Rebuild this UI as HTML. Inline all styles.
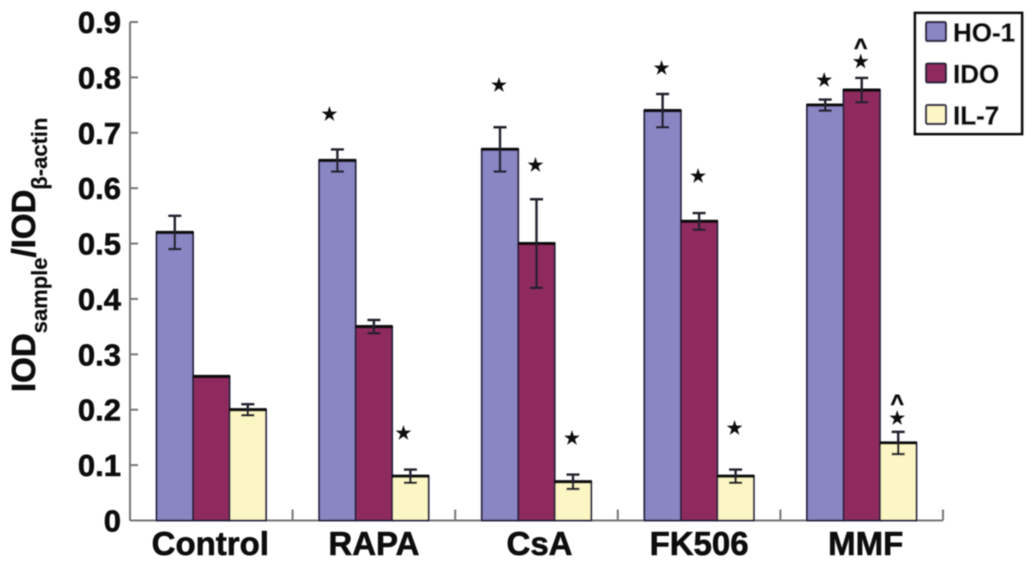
<!DOCTYPE html>
<html>
<head>
<meta charset="utf-8">
<title>IOD ratio bar chart</title>
<style>
html,body{margin:0;padding:0;background:#fff;width:1033px;height:565px;overflow:hidden}
svg{display:block}
text{font-family:"Liberation Sans",sans-serif;font-weight:bold;fill:#111;stroke:#111;stroke-width:0.6px}
</style>
</head>
<body>
<svg id="chart" xmlns="http://www.w3.org/2000/svg" width="1033" height="565" viewBox="0 0 1033 565">
<defs><filter id="soft" x="-5%" y="-5%" width="110%" height="110%"><feGaussianBlur stdDeviation="0.5"/></filter></defs>
<g id="plot" filter="url(#soft)">
<text transform="translate(35,392) rotate(-90)" font-size="33">IOD<tspan font-size="22" dy="12" style="stroke-width:0.2px">sample</tspan><tspan font-size="33" dy="-12">/IOD</tspan><tspan font-size="22" dy="12" style="stroke-width:0.2px" font-family="Liberation Sans, DejaVu Sans, sans-serif">β-actin</tspan></text>
</g>
</svg>
<script>
const categories = ['Control', 'RAPA', 'CsA', 'FK506', 'MMF'];
const seriesNames = ['HO-1', 'IDO', 'IL-7'];
const hoValues = [0.52, 0.65, 0.67, 0.74, 0.75];
const idoValues = [0.26, 0.35, 0.50, 0.54, 0.777];
const il7Values = [0.20, 0.08, 0.07, 0.08, 0.14];
const hoErrors = [0.03, 0.02, 0.04, 0.03, 0.01];
const idoErrors = [0, 0.012, 0.08, 0.015, 0.022];
const il7Errors = [0.01, 0.012, 0.013, 0.012, 0.02];
const yTickLabels = ['0', '0.1', '0.2', '0.3', '0.4', '0.5', '0.6', '0.7', '0.8', '0.9'];
// significance marks: category index, series index, height in axis units, symbol
const markCategory = [1, 2, 2, 3, 3, 4, 4, 4, 1, 2, 3, 4, 4];
const markSeries = [0, 0, 1, 0, 1, 0, 1, 1, 2, 2, 2, 2, 2];
const markLevel = [0.734, 0.786, 0.642, 0.817, 0.622, 0.795, 0.829, 0.860, 0.158, 0.149, 0.167, 0.185, 0.2175];
const markSymbol = ['★', '★', '★', '★', '★', '★', '★', '^', '★', '★', '★', '★', '^'];

const allValues = [hoValues, idoValues, il7Values];
const allErrors = [hoErrors, idoErrors, il7Errors];
const colors = ['#8a86c4', '#8f2a5e', '#fbf6c4'];
const plotLeft = 130, plotRight = 943, plotBottom = 520.5, plotTop = 22, yMax = 0.9, barW = 36.5;
const groupW = (plotRight - plotLeft) / categories.length;
const y = v => plotBottom - (v / yMax) * (plotBottom - plotTop);
const groupX = i => plotLeft + groupW * i;
const barX = (i, s) => groupX(i) + groupW / 2 - barW * 1.5 + barW * s;

const plot = document.getElementById('plot');
const NS = 'http://www.w3.org/2000/svg';
function mk(tag, attrs, parent) {
  const el = document.createElementNS(NS, tag);
  for (const k in attrs) el.setAttribute(k, attrs[k]);
  (parent || plot).appendChild(el);
  return el;
}

// axes
const axisAttrs = {stroke: '#77777a', 'stroke-width': 2, fill: 'none'};
const yAxis = mk('path', Object.assign({d: `M${plotLeft} ${plotTop}V${plotBottom}`}, axisAttrs));


const xAxis = mk('path', Object.assign({d: `M${plotLeft} ${plotBottom}H${plotRight}`}, axisAttrs));



yTickLabels.forEach((label, i) => {
  const v = yMax * i / (yTickLabels.length - 1);
  const tick = mk('line', Object.assign({x1: plotLeft, x2: plotLeft + 8, y1: y(v), y2: y(v)}, axisAttrs));
  
  
  const t = mk('text', {x: 121, y: y(v) + 11, 'text-anchor': 'end', 'font-size': 31});
  t.textContent = label;
  
  
});

for (let i = 0; i <= categories.length; i++) {
  const tick = mk('line', Object.assign({x1: groupX(i), x2: groupX(i), y1: plotBottom, y2: plotBottom - 11}, axisAttrs));
  
  
}

// bars and error bars
categories.forEach((cat, i) => {
  allValues.forEach((vals, s) => {
    const x = barX(i, s), top = y(vals[i]);
    const bar = mk('rect', {x: x, y: top, width: barW, height: plotBottom - top, fill: colors[s], stroke: '#26233f', 'stroke-width': 1.8});
    
    
    const cap = mk('line', {x1: x - 0.5, x2: x + barW + 0.5, y1: top, y2: top, stroke: '#111', 'stroke-width': 3.2});
    
    
  });
});
// small layout shifts for labels that sit off-centre in the original
const labelShift = {0: -1, 2: 3, 4: 4};
categories.forEach((cat, i) => {
  allValues.forEach((vals, s) => {
    const e = allErrors[s][i];
    if (!e) return;
    const cx = barX(i, s) + barW / 2, hi = y(vals[i] + e), lo = y(vals[i] - e);
    const err = mk('path', {d: `M${cx} ${hi}V${lo}M${cx - 6.5} ${hi}H${cx + 6.5}M${cx - 6.5} ${lo}H${cx + 6.5}`, stroke: '#22222e', 'stroke-width': 2.4, fill: 'none'});
    
    
  });
  const lab = mk('text', {x: groupX(i) + groupW / 2 + (labelShift[i] || 0), y: 555, 'text-anchor': 'middle', 'font-size': 33});
  lab.textContent = cat;
  
  
});

// significance marks
const starShift = {0: -7, 8: -6};
markLevel.forEach((lvl, k) => {
  const cx = barX(markCategory[k], markSeries[k]) + barW / 2 - 1 + (starShift[k] || 0);
  const star = markSymbol[k] === '★';
  const t = mk('text', {x: cx, y: y(lvl) + (star ? 6 : 11), 'text-anchor': 'middle', 'font-size': star ? 18 : 23});
  t.style.fontFamily = star ? '"DejaVu Sans",sans-serif' : '"Liberation Sans",sans-serif';
  t.textContent = markSymbol[k];
  
  
});

// legend
const legendBox = mk('rect', {x: 915, y: 13, width: 107, height: 121, fill: '#fff', stroke: '#111', 'stroke-width': 2.8});


seriesNames.forEach((name, s) => {
  const top = 22 + s * 41.5;
  const sw = mk('rect', {x: 926, y: top, width: 20, height: 19, rx: 1.5, fill: colors[s], stroke: '#26233f', 'stroke-width': 2.2});
  
  
  const t = mk('text', {x: 953, y: top + 19.5, 'font-size': 26});
  t.textContent = name;
  
  
});
</script>
</body>
</html>
